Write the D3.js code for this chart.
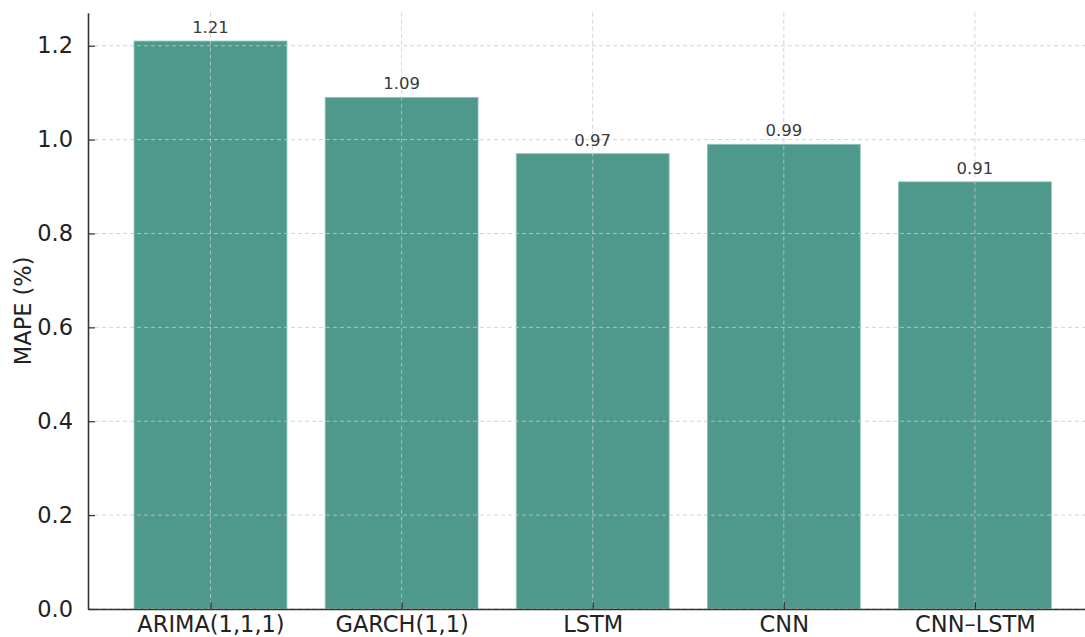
<!DOCTYPE html>
<html><head><meta charset="utf-8">
<script src="https://cdn.jsdelivr.net/npm/d3@7"></script>
<style>body{margin:0;background:#fff}svg{display:block}text{font-family:"DejaVu Sans",sans-serif}</style>
</head><body>
<svg id="c" width="1085" height="637"></svg>
<script>
const categories = ["ARIMA(1,1,1)", "GARCH(1,1)", "LSTM", "CNN", "CNN\u2013LSTM"];
const values = [1.21, 1.09, 0.97, 0.99, 0.91];
const valueLabels = ["1.21", "1.09", "0.97", "0.99", "0.91"];
const yTicks = [0.0, 0.2, 0.4, 0.6, 0.8, 1.0, 1.2];
const yTickLabels = ["0.0", "0.2", "0.4", "0.6", "0.8", "1.0", "1.2"];

const svg = d3.select("#c");
const left = 88, bottom = 609, W = 1085;
const step = 191.1, c0 = 210.5;
const x = d3.scaleLinear().domain([-0.64, 4.64]).range([c0 - 0.64*step, c0 + 4.64*step]);
const y = d3.scaleLinear().domain([0, 1.2705]).range([bottom, bottom - 1.2705*469.4]);
const bw = 0.8 * step;
const idx = categories.map((d,i)=>i);

// bars
svg.append("g").selectAll("rect").data(values).join("rect")
  .attr("x", (d,i)=>x(i)-bw/2).attr("width", bw)
  .attr("y", d=>y(d)).attr("height", d=>bottom-y(d))
  .attr("fill", "#4f998c").attr("stroke", "#8fc4ba").attr("stroke-width", 0.8);

// grid
const grid = svg.append("g").attr("stroke", "#c8c8c8").attr("stroke-opacity", 0.8)
  .attr("stroke-dasharray", "4,3").attr("stroke-width", 1);
grid.selectAll("line.h").data(yTicks).join("line").attr("class","h")
  .attr("x1", left).attr("x2", W).attr("y1", d=>y(d)).attr("y2", d=>y(d));
grid.selectAll("line.v").data(idx).join("line").attr("class","v")
  .attr("x1", d=>x(d)).attr("x2", d=>x(d)).attr("y1", y.range()[1]).attr("y2", bottom);

// value labels
svg.append("g").selectAll("text").data(values).join("text")
  .attr("x", (d,i)=>x(i)).attr("y", d=>y(d)-8)
  .attr("text-anchor","middle").attr("font-size", 16.5).attr("fill","#3a3a3a")
  .text((d,i)=>valueLabels[i]);

// y axis
const yAxis = d3.axisLeft(y).tickValues(yTicks).tickFormat((d,i)=>yTickLabels[i]).tickSizeInner(-7).tickSizeOuter(0).tickPadding(15);
const gy = svg.append("g").attr("transform", `translate(${left},0)`).call(yAxis);
gy.select(".domain").attr("stroke","#333").attr("stroke-width",1.6);
gy.selectAll(".tick line").attr("stroke","#333").attr("stroke-width",1.2);
gy.selectAll(".tick text").attr("font-size", 22.5).attr("fill","#222").attr("font-family","DejaVu Sans");

// x axis
const xAxis = d3.axisBottom(x).tickValues(idx).tickFormat(i=>categories[i]).tickSizeInner(-7).tickSizeOuter(0).tickPadding(7);
const gx = svg.append("g").attr("transform", `translate(0,${bottom})`).call(xAxis);
gx.select(".domain").attr("stroke","#333").attr("stroke-width",1.6);
gx.selectAll(".tick line").attr("stroke","#333").attr("stroke-width",1.2);
gx.selectAll(".tick text").attr("font-size", 22.5).attr("fill","#222").attr("font-family","DejaVu Sans");

// y label
svg.append("text").attr("transform", `translate(31,${(bottom + y.range()[1])/2}) rotate(-90)`)
  .attr("text-anchor","middle").attr("font-size", 22.5).attr("fill","#222").text("MAPE (%)");
</script>
</body></html>
